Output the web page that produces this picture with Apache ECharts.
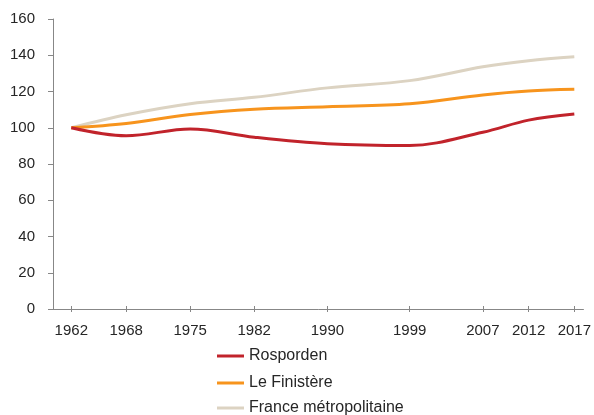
<!DOCTYPE html>
<html>
<head>
<meta charset="utf-8">
<script src="https://cdn.jsdelivr.net/npm/echarts@6/dist/echarts.min.js"></script>
<style>
html,body{margin:0;padding:0;background:#fff;}
#chart{width:594px;height:415px;}
</style>
</head>
<body>
<div id="chart"></div>
<script>
// années du recensement (axe x proportionnel au temps)
var years = [1962, 1968, 1975, 1982, 1990, 1999, 2007, 2012, 2017];
// indice base 100 en 1962
var rosporden = [100, 95.6, 99.3, 94.8, 91.2, 90.2, 97.5, 104.2, 107.6];
var finistere = [100, 102.4, 107.3, 110.2, 111.6, 113.2, 118.1, 120.3, 121.2];
var france = [100, 107.2, 113.3, 116.8, 122.0, 126.0, 133.6, 137.0, 139.2];
var names = ['Rosporden', 'Le Finistère', 'France métropolitaine'];

function pairs(arr){
	var out = [];
	for(var i=0;i<years.length;i++){
		out.push([years[i], arr[i]]);
	}
	return out;
}

var font = 'Liberation Sans';
var axisColor = '#878787';
var textColor = '#262626';

// une légende par ligne, empilées verticalement
var legendTops = [348, 375, 400];
var legends = [];
for(var l=0;l<names.length;l++){
	legends.push({
		left: 217,
		top: legendTops[l],
		icon: 'rect',
		itemWidth: 27,
		itemHeight: 3,
		padding: 0,
		textStyle: {
			color: textColor,
			fontFamily: font,
			fontSize: 16
		},
		data: [names[l]]
	});
}

var chart = echarts.init(document.getElementById('chart'));
var option = {
	animation: false,
	grid: {
		left: 53,
		right: 9,
		top: 19,
		bottom: 106
	},
	xAxis: [{
		type: 'value',
		min: 1960,
		max: 2018,
		splitLine: {show: false},
		axisLine: {
			onZero: false,
			lineStyle: {color: axisColor, width: 1}
		},
		axisTick: {
			show: true,
			length: 3,
			customValues: years,
			lineStyle: {color: axisColor}
		},
		axisLabel: {
			customValues: years,
			formatter: function(v){ return String(v); },
			color: textColor,
			fontFamily: font,
			fontSize: 15,
			margin: 14
		}
	},{
		// second axe pour les petites croix (tick vers le haut)
		type: 'value',
		position: 'bottom',
		min: 1960,
		max: 2018,
		splitLine: {show: false},
		axisLine: {show: false, onZero: false},
		axisTick: {
			show: true,
			inside: true,
			length: 3,
			customValues: years,
			lineStyle: {color: axisColor}
		},
		axisLabel: {show: false}
	}],
	yAxis: {
		type: 'value',
		min: 0,
		max: 160,
		interval: 20,
		splitLine: {show: false},
		axisLine: {
			show: true,
			lineStyle: {color: axisColor, width: 1}
		},
		axisTick: {
			show: true,
			length: 5,
			lineStyle: {color: axisColor}
		},
		axisLabel: {
			color: textColor,
			fontFamily: font,
			fontSize: 15,
			margin: 18
		}
	},
	legend: legends,
	series: [{
		name: names[2],
		type: 'line',
		smooth: 0.35,
		symbol: 'none',
		data: pairs(france),
		lineStyle: {color: '#DCD3C2', width: 3},
		itemStyle: {color: '#DCD3C2'}
	},{
		name: names[1],
		type: 'line',
		smooth: 0.35,
		symbol: 'none',
		data: pairs(finistere),
		lineStyle: {color: '#F7941D', width: 3},
		itemStyle: {color: '#F7941D'}
	},{
		name: names[0],
		type: 'line',
		smooth: 0.35,
		symbol: 'none',
		data: pairs(rosporden),
		lineStyle: {color: '#C1232B', width: 3},
		itemStyle: {color: '#C1232B'}
	}]
};
chart.setOption(option);
</script>
</body>
</html>
